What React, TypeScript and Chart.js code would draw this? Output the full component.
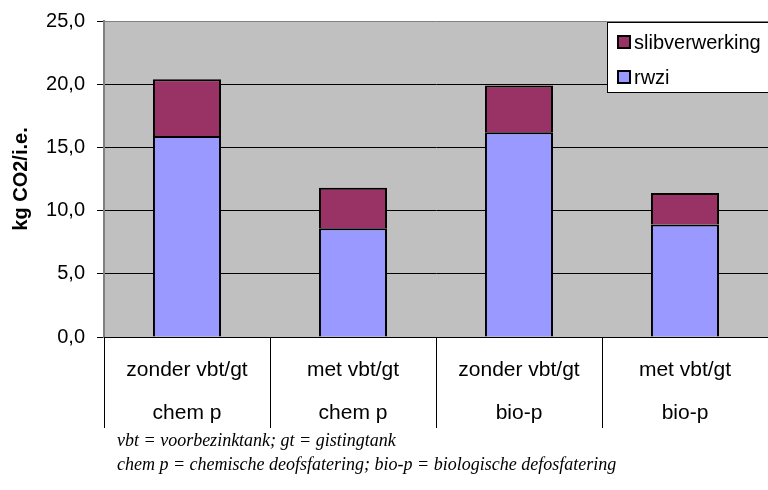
import React, { useEffect, useRef } from "react";
import { Chart, registerables } from "chart.js";

Chart.register(...registerables);

const categories = ["zonder vbt/gt", "met vbt/gt", "zonder vbt/gt", "met vbt/gt"];
const groups = ["chem p", "chem p", "bio-p", "bio-p"];
const rwzi = [15.9, 8.6, 16.2, 8.9];
const slibverwerking = [4.5, 3.2, 3.7, 2.5];
const yMin = 0;
const yMax = 25;
const yStep = 5;
const yTitle = "kg CO2/i.e.";
const footnotes = [
  "vbt = voorbezinktank; gt = gistingtank",
  "chem p = chemische deofsfatering; bio-p = biologische defosfatering",
];

const SANS = "'Liberation Sans', Arial, sans-serif";
const SERIF = "'Liberation Serif', 'Times New Roman', serif";

const decorPlugin = {
  id: "decor",
  beforeDraw(chart: any) {
    const { ctx, chartArea } = chart;
    ctx.save();
    ctx.fillStyle = "#C0C0C0";
    ctx.fillRect(chartArea.left, chartArea.top, chartArea.right - chartArea.left, chartArea.bottom - chartArea.top);
    ctx.restore();
  },
  afterDraw(chart: any) {
    const { ctx, chartArea } = chart;
    const x = chart.scales.x;
    const n = categories.length;
    const catW = (chartArea.right - chartArea.left) / n;
    ctx.save();
    // separators
    ctx.strokeStyle = "#000";
    ctx.lineWidth = 1;
    for (let i = 0; i <= n; i++) {
      const px = Math.round(x.getPixelForValue(0) - catW / 2 + i * catW) + 0.5;
      ctx.beginPath();
      ctx.moveTo(px, chartArea.bottom);
      ctx.lineTo(px, 428);
      ctx.stroke();
    }
    // labels
    ctx.fillStyle = "#000";
    ctx.font = `21px ${SANS}`;
    ctx.textAlign = "center";
    ctx.textBaseline = "middle";
    for (let i = 0; i < n; i++) {
      const cx = x.getPixelForValue(i);
      ctx.fillText(categories[i], cx, 370);
      ctx.fillText(groups[i], cx, 413);
    }
    // legend
    const lx = 607.5;
    const ly = 22.5;
    ctx.fillStyle = "#fff";
    ctx.fillRect(lx, ly, 180, 70);
    ctx.strokeStyle = "#000";
    ctx.lineWidth = 1;
    ctx.strokeRect(lx, ly, 180, 70);
    const items = [
      { label: chart.data.datasets[1].label, color: chart.data.datasets[1].backgroundColor, y: 42 },
      { label: chart.data.datasets[0].label, color: chart.data.datasets[0].backgroundColor, y: 77 },
    ];
    ctx.textAlign = "left";
    ctx.font = `20px ${SANS}`;
    for (const it of items) {
      ctx.fillStyle = it.color;
      ctx.fillRect(618, it.y - 6, 12, 12);
      ctx.lineWidth = 2;
      ctx.strokeStyle = "#000";
      ctx.strokeRect(618, it.y - 6, 12, 12);
      ctx.fillStyle = "#000";
      ctx.fillText(it.label, 634, it.y + 1);
    }
    // footnotes
    ctx.font = `italic 18px ${SERIF}`;
    ctx.textBaseline = "alphabetic";
    ctx.fillText(footnotes[0], 117, 446);
    ctx.fillText(footnotes[1], 117, 470);
    ctx.restore();
  },
};

export default function App() {
  const ref = useRef<HTMLCanvasElement | null>(null);
  useEffect(() => {
    if (!ref.current) return;
    const chart = new Chart(ref.current, {
      type: "bar",
      data: {
        labels: categories,
        datasets: [
          {
            label: "rwzi",
            data: rwzi,
            backgroundColor: "#9999FF",
            borderColor: "#000",
            borderWidth: 2,
            barPercentage: 0.41,
            categoryPercentage: 1,
          },
          {
            label: "slibverwerking",
            data: slibverwerking,
            backgroundColor: "#993366",
            borderColor: "#000",
            borderWidth: 2,
            barPercentage: 0.41,
            categoryPercentage: 1,
          },
        ],
      },
      options: {
        animation: false,
        responsive: false,
        maintainAspectRatio: false,
        layout: { padding: { top: 21, right: 0, left: 0, bottom: 0 } },
        plugins: { legend: { display: false }, tooltip: { enabled: false } },
        scales: {
          x: {
            stacked: true,
            ticks: { display: false },
            grid: { display: false },
            border: { display: false },
            afterFit(scale: any) {
              scale.height = 153;
              scale.paddingLeft = 0;
              scale.paddingRight = 0;
            },
          },
          y: {
            stacked: true,
            min: yMin,
            max: yMax,
            ticks: {
              stepSize: yStep,
              color: "#000",
              font: { family: SANS, size: 20 },
              padding: 12,
              callback: (v: any) => Number(v).toFixed(1).replace(".", ","),
            },
            grid: {
              color: (c: any) => (c.tick && c.tick.value === yMax ? "#808080" : "#000"),
              tickColor: "#000",
              tickLength: 7,
              lineWidth: 1,
            },
            border: { color: "#808080", width: 2 },
            title: {
              display: true,
              text: yTitle,
              color: "#000",
              font: { family: SANS, size: 20, weight: "bold" },
              padding: { top: 9, bottom: 0 },
            },
            afterFit(scale: any) {
              scale.width = 104;
              scale.paddingTop = 0;
              scale.paddingBottom = 0;
            },
          },
        },
      },
      plugins: [decorPlugin],
    });
    return () => chart.destroy();
  }, []);
  return (
    <div style={{ position: "fixed", left: 0, top: 0, width: 768, height: 490, background: "#fff" }}>
      <canvas ref={ref} width={768} height={490} style={{ display: "block" }} />
    </div>
  );
}
